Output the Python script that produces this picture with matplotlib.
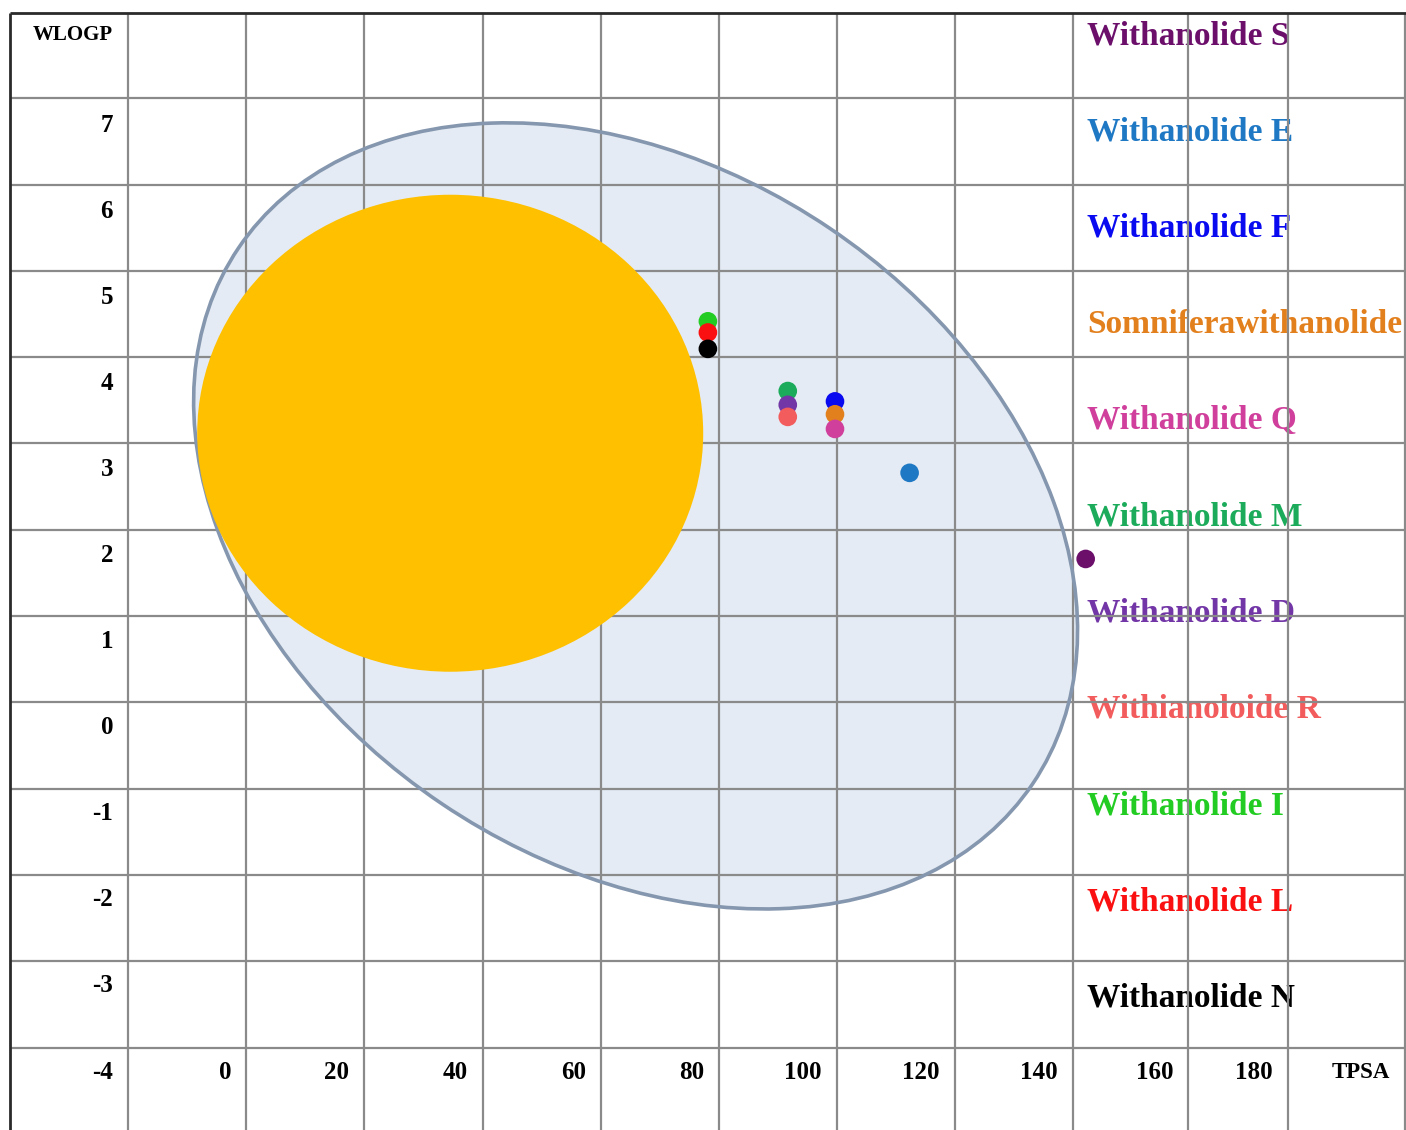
import matplotlib
matplotlib.use("Agg")
import matplotlib.pyplot as plt
from matplotlib.patches import Ellipse
from matplotlib.transforms import ScaledTranslation

# compounds, top to bottom as listed on the right
compounds = ["Withanolide S", "Withanolide E", "Withanolide F", "Somniferawithanolide",
             "Withanolide Q", "Withanolide M", "Withanolide D", "Withianoloide R",
             "Withanolide I", "Withanolide L", "Withanolide N"]
tpsa = [147.8, 117.6, 104.8, 104.8, 104.8, 96.7, 96.7, 96.7, 83.0, 83.0, 83.0]
wlogp = [1.96, 2.96, 3.79, 3.64, 3.47, 3.91, 3.75, 3.61, 4.72, 4.59, 4.40]
colors = ["#6b0f6b", "#1f78c4", "#0a0af0", "#e3801e", "#cf3f9b", "#1bab5a",
          "#7236a6", "#f25c5c", "#22cc22", "#fa1010", "#000000"]

wlogp_ticks = ["7", "6", "5", "4", "3", "2", "1", "0", "-1", "-2", "-3", "-4"]
tpsa_ticks = ["0", "20", "40", "60", "80", "100", "120", "140", "160", "180"]

W, H, DPI = 1406, 1130, 100
# pixel -> data mapping of the drawn table
X0, PX_PER_X = 224, 5.83
Y0, PX_PER_Y = 125, 86.1


def px_x(px):
    return (px - X0) / PX_PER_X


def px_y(py):
    return 7 - (py - Y0) / PX_PER_Y


col_edges = [10, 128, 246, 364, 483, 601, 719, 837, 955, 1073, 1188, 1288, 1405]
row_edges = [13, 98, 185, 271, 357, 443, 530, 616, 702, 789, 875, 961, 1048]

fig = plt.figure(figsize=(W / DPI, H / DPI), dpi=DPI)
ax = fig.add_axes([0, 0, 1, 1])
ax.set_xlim(px_x(0), px_x(W))
ax.set_ylim(px_y(H), px_y(0))
ax.axis("off")

font = dict(family="Liberation Serif", weight="bold")

# outer egg (HIA region)
egg_center = (70.6, 2.46)
t = fig.dpi_scale_trans + ScaledTranslation(egg_center[0], egg_center[1], ax.transData)
ax.add_patch(Ellipse((0, 0), 958 / DPI, 694 / DPI, angle=-34.0, transform=t,
                     facecolor="#e4ebf4", edgecolor="none", zorder=1))
ax.add_patch(Ellipse((0, 0), 958 / DPI, 694 / DPI, angle=-34.0, transform=t,
                     facecolor="none", edgecolor="#8597ae", lw=2.6, zorder=4))

# yolk (BBB region)
yolk_center = (38.8, 3.42)
t2 = fig.dpi_scale_trans + ScaledTranslation(yolk_center[0], yolk_center[1], ax.transData)
ax.add_patch(Ellipse((0, 0), 506 / DPI, 477 / DPI, transform=t2,
                     facecolor="#ffc000", edgecolor="none", zorder=5))

# table grid
ax.hlines([px_y(r) for r in row_edges[1:]], px_x(10), px_x(W), color="#8a8a8a", lw=1.6, zorder=3)
ax.vlines([px_x(c) for c in col_edges[1:]], px_y(H), px_y(13), color="#8a8a8a", lw=1.6, zorder=3)
ax.hlines(px_y(13), px_x(10), px_x(W), color="#2a2a2a", lw=2, zorder=3)
ax.vlines(px_x(10), px_y(H), px_y(13), color="#2a2a2a", lw=2, zorder=3)

# row header labels
ax.text(px_x(113), px_y(35), "WLOGP", ha="right", va="center", fontsize=15, zorder=2, **font)
for lab in wlogp_ticks:
    ax.text(px_x(113), float(lab), lab, ha="right", va="center", fontsize=18, zorder=2, **font)

# bottom row labels
for i, lab in enumerate(tpsa_ticks):
    ax.text(px_x(col_edges[i + 2] - 15), -4, lab, ha="right", va="center",
            fontsize=18, zorder=2, **font)
ax.text(px_x(col_edges[-1] - 15), -4, "TPSA", ha="right", va="center",
        fontsize=16.5, zorder=2, **font)

# compound names
for i, (name, c) in enumerate(zip(compounds, colors)):
    ax.text(px_x(1087), px_y(36 + i * 96.2), name, ha="left", va="center",
            color=c, fontsize=24, zorder=2, **font)

# compounds
ax.scatter(tpsa, wlogp, s=180, c=colors, edgecolors="none", zorder=6)

fig.savefig("out.png", dpi=DPI, facecolor="white")
